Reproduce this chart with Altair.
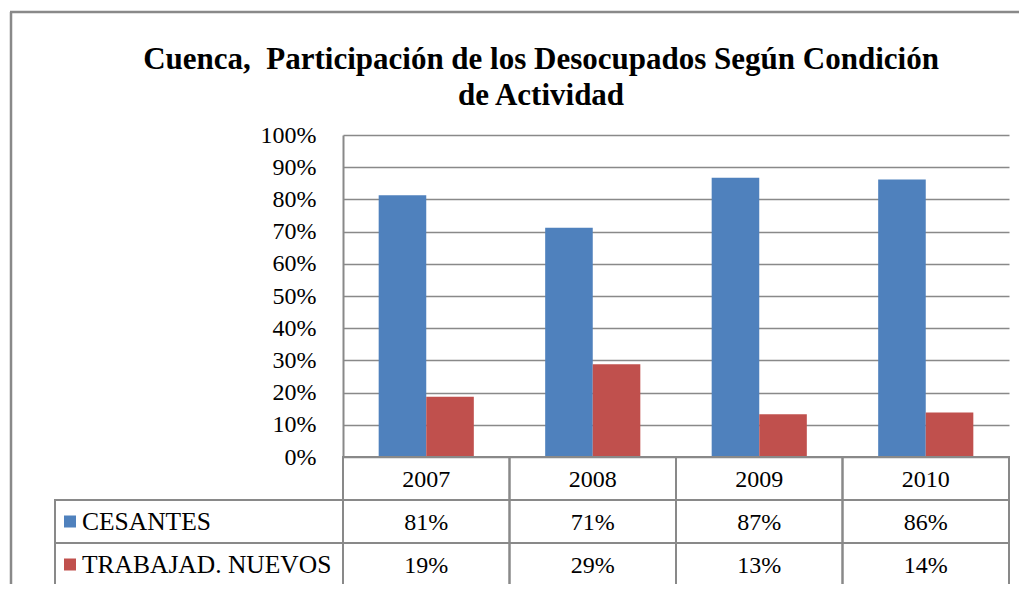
import altair as alt
import pandas as pd

years = ["2007", "2008", "2009", "2010"]
series = ["CESANTES", "TRABAJAD. NUEVOS"]
cesantes = [81.3, 71.2, 86.7, 86.2]
nuevos = [18.7, 28.8, 13.3, 13.8]
colors = ["#4F81BD", "#C0504D"]
y_ticks = [0, 10, 20, 30, 40, 50, 60, 70, 80, 90, 100]
title_lines = ["Cuenca,\u00a0 Participación de los Desocupados Según Condición", "de Actividad"]

FONT = "Liberation Serif"
GRAY = "#898989"

rows = []
for s, vals in zip(series, [cesantes, nuevos]):
    for yr, v in zip(years, vals):
        rows.append({"year": yr, "series": s, "value": v, "row": s})
df = pd.DataFrame(rows)

row_domain = ["header"] + series
cells = pd.DataFrame([{"year": yr, "row": r} for yr in years for r in row_domain])
header = pd.DataFrame([{"year": yr, "row": "header"} for yr in years])
left = pd.DataFrame([{"row": s, "series": s} for s in series])

x_enc = alt.X("year:N", sort=years,
              scale=alt.Scale(domain=years, paddingInner=0, paddingOuter=0),
              axis=None)
row_enc = alt.Y("row:N",
                scale=alt.Scale(type="band", domain=row_domain, range=[322, 451],
                                paddingInner=0, paddingOuter=0),
                axis=None)
color_enc = alt.Color("series:N", scale=alt.Scale(domain=series, range=colors), legend=None)

bars = alt.Chart(df).mark_bar().encode(
    x=x_enc,
    xOffset=alt.XOffset("series:N", sort=series,
                        scale=alt.Scale(domain=series, paddingInner=0, paddingOuter=0.75)),
    y=alt.Y("value:Q", scale=alt.Scale(domain=[0, 100]),
            axis=alt.Axis(values=y_ticks, labelExpr="datum.value + '%'", title=None,
                          grid=True, gridColor=GRAY, gridWidth=1.6, ticks=False,
                          domain=True, domainColor=GRAY, domainWidth=2,
                          labelFont=FONT, labelFontSize=24, labelColor="black",
                          labelPadding=27)),
    color=color_enc,
)

cell_rects = alt.Chart(cells).mark_rect(fill="transparent", stroke=GRAY, strokeWidth=2).encode(
    x=x_enc, y=row_enc)
left_rects = alt.Chart(left).mark_rect(fill="transparent", stroke=GRAY, strokeWidth=2).encode(
    x=alt.value(-288), x2=alt.value(0), y=row_enc)
header_text = alt.Chart(header).mark_text(font=FONT, fontSize=24, color="black",
                                          baseline="middle", dy=1).encode(
    x=x_enc, y=row_enc, text="year:N")
value_text = alt.Chart(df).transform_calculate(
    label="format(datum.value, '.0f') + '%'"
).mark_text(font=FONT, fontSize=24, color="black", baseline="middle", dy=1).encode(
    x=x_enc, y=row_enc, text="label:N")
squares = alt.Chart(left).mark_square(size=144, opacity=1).encode(
    x=alt.value(-273), y=row_enc, color=color_enc)
label_text = alt.Chart(left).mark_text(font=FONT, fontSize=25.5, color="black",
                                       align="left", baseline="middle", dy=0).encode(
    x=alt.value(-261), y=row_enc, text="series:N")

table = alt.layer(cell_rects, left_rects, header_text, value_text, squares, label_text)

one = alt.Data(values=[{}])
border_left = alt.Chart(one).mark_rule(color=GRAY, strokeWidth=2.5).encode(
    x=alt.value(-332), y=alt.value(-123), y2=alt.value(470))
border_top = alt.Chart(one).mark_rule(color=GRAY, strokeWidth=2.5).encode(
    x=alt.value(-333), x2=alt.value(700), y=alt.value(-123), y2=alt.value(-123))

chart = alt.layer(bars, table, border_left, border_top).resolve_scale(
    y="independent"
).properties(
    width=666,
    height=322,
    autosize=alt.AutoSizeParams(type="none"),
    padding={"left": 335, "top": 127, "right": 10, "bottom": 127},
    title=alt.TitleParams(text=title_lines, font=FONT, fontSize=31, fontWeight="bold",
                          color="black", anchor="middle", frame="group", dx=-135,
                          offset=-125.5, baseline="alphabetic", lineHeight=36),
).configure_view(stroke=None)

chart.save("out.html", embed_options={"renderer": "svg", "actions": False})
